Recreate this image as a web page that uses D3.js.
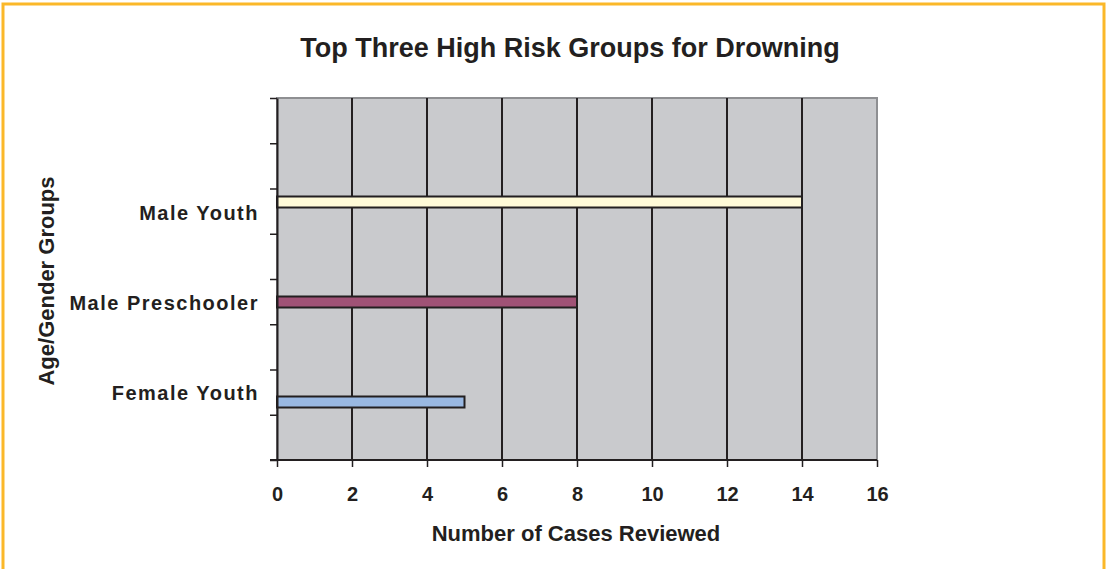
<!DOCTYPE html>
<html>
<head>
<meta charset="utf-8">
<script src="https://cdn.jsdelivr.net/npm/d3@7"></script>
<style>
  body { margin: 0; background: #fff; }
  text { font-family: "Liberation Sans", Arial, sans-serif; font-weight: bold; fill: #231f20; }
</style>
</head>
<body>
<svg width="1106" height="569"></svg>
<script>
// chart data
var groups = ["Male Youth", "Male Preschooler", "Female Youth"];
var cases = [14, 8, 5];
var barColors = ["#fffad8", "#a05276", "#99b8e2"];
var xTicks = [0, 2, 4, 6, 8, 10, 12, 14, 16];

var svg = d3.select("svg"), width = +svg.attr("width"), height = +svg.attr("height");

// orange frame
svg.append("rect").attr("x", 3).attr("y", 4).attr("width", width - 5).attr("height", height + 10)
  .attr("fill", "none").attr("stroke", "#fbb829").attr("stroke-width", 3);

var plot = { left: 277, right: 877, top: 98, bottom: 460 };

var x = d3.scaleLinear().domain([0, 16]).range([plot.left, plot.right]);
// bars sit in 100px bands, labels are spaced a bit tighter as in the original
var y = d3.scaleBand().domain(groups).range([152, 452]).paddingInner(0.89).paddingOuter(0.445);
var yLabel = d3.scalePoint().domain(groups).range([213, 393]);

// plot background
svg.append("rect").attr("x", plot.left).attr("y", plot.top)
  .attr("width", plot.right - plot.left).attr("height", plot.bottom - plot.top)
  .attr("fill", "#c9cacd").attr("stroke", "#8e8f92").attr("stroke-width", 2);

// vertical grid lines
svg.append("g").selectAll("line").data(xTicks.slice(1, -1)).enter().append("line")
  .attr("x1", function(d) { return x(d); }).attr("x2", function(d) { return x(d); })
  .attr("y1", plot.top).attr("y2", plot.bottom)
  .attr("stroke", "#231f20").attr("stroke-width", 2);

// bars
svg.append("g").selectAll("rect").data(groups).enter().append("rect")
  .attr("x", x(0)).attr("y", function(d) { return y(d); })
  .attr("width", function(d, i) { return x(cases[i]) - x(0); })
  .attr("height", y.bandwidth())
  .attr("fill", function(d, i) { return barColors[i]; })
  .attr("stroke", "#231f20").attr("stroke-width", 2);

// x axis
var xAxis = svg.append("g").attr("transform", "translate(0," + plot.bottom + ")")
  .call(d3.axisBottom(x).tickValues(xTicks).tickSize(7).tickPadding(20).tickSizeOuter(0));
xAxis.select(".domain").attr("d", "M" + (plot.left - 7) + ",0H" + plot.right)
  .attr("stroke", "#231f20").attr("stroke-width", 2);
xAxis.selectAll("line").attr("stroke", "#231f20").attr("stroke-width", 1.5);
xAxis.selectAll("text").style("font-size", "20px").style("font-family", "Liberation Sans, Arial, sans-serif")
  .style("font-weight", "bold").attr("fill", "#231f20");

// y axis: 8 equal tick intervals, no tick labels
var yTick = d3.scaleLinear().domain([0, 8]).range([plot.bottom, plot.top]);
var yAxis = svg.append("g").attr("transform", "translate(" + plot.left + ",0)")
  .call(d3.axisLeft(yTick).ticks(8).tickSize(7).tickFormat("").tickSizeOuter(0));
yAxis.select(".domain").attr("stroke", "#231f20").attr("stroke-width", 2);
yAxis.selectAll("line").attr("stroke", "#231f20").attr("stroke-width", 1.5);

// category labels
svg.append("g").selectAll("text").data(groups).enter().append("text")
  .attr("x", 259).attr("y", function(d) { return yLabel(d); })
  .attr("dy", "0.35em").attr("text-anchor", "end")
  .style("font-size", "20px").style("letter-spacing", "1.5px")
  .text(function(d) { return d; });

// titles
svg.append("text").attr("x", 570).attr("y", 57).attr("text-anchor", "middle")
  .style("font-size", "27px").text("Top Three High Risk Groups for Drowning");

svg.append("text").attr("x", 576).attr("y", 541).attr("text-anchor", "middle")
  .style("font-size", "22px").text("Number of Cases Reviewed");

svg.append("text").attr("transform", "translate(54,281) rotate(-90)").attr("text-anchor", "middle")
  .style("font-size", "22px").text("Age/Gender Groups");
</script>
</body>
</html>
